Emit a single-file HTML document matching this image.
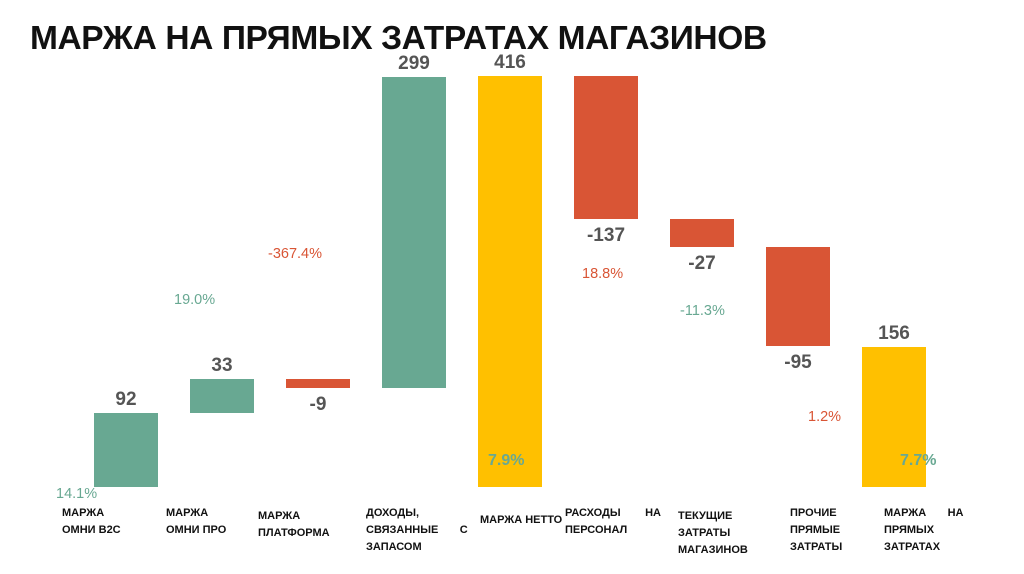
<!DOCTYPE html>
<html><head><meta charset="utf-8"><style>
body{margin:0;width:1024px;height:574px;background:#fff;position:relative;overflow:hidden;font-family:"Liberation Sans","DejaVu Sans",sans-serif}
#title{position:absolute;left:30px;top:20px;font-size:33.5px;font-weight:bold;color:#111;letter-spacing:-0.4px}
.bar{position:absolute}
.val{position:absolute;width:100px;text-align:center;font-size:19px;font-weight:bold;color:#555}
.pct{position:absolute;font-size:14.5px}
.cat{position:absolute;font-size:11px;font-weight:bold;color:#111;line-height:17px;white-space:nowrap}
</style></head><body>
<div id="title">МАРЖА НА ПРЯМЫХ ЗАТРАТАХ МАГАЗИНОВ</div>
<div id="chart"></div>
<script>
const categories=["МАРЖА<br>ОМНИ B2C","МАРЖА<br>ОМНИ ПРО","МАРЖА<br>ПЛАТФОРМА","ДОХОДЫ,<br>СВЯЗАННЫЕ &nbsp;&nbsp;&nbsp;&nbsp;&nbsp;&nbsp;С<br>ЗАПАСОМ","МАРЖА НЕТТО","РАСХОДЫ &nbsp;&nbsp;&nbsp;&nbsp;&nbsp;&nbsp;&nbsp;НА<br>ПЕРСОНАЛ","ТЕКУЩИЕ<br>ЗАТРАТЫ<br>МАГАЗИНОВ","ПРОЧИЕ<br>ПРЯМЫЕ<br>ЗАТРАТЫ","МАРЖА &nbsp;&nbsp;&nbsp;&nbsp;&nbsp;&nbsp;НА<br>ПРЯМЫХ<br>ЗАТРАТАХ"];
const values=[92,33,-9,299,416,-137,-27,-95,156];
const isTotal=[false,false,false,false,true,false,false,false,true];
const percents=["14.1%","19.0%","-367.4%","","7.9%","18.8%","-11.3%","1.2%","7.7%"];
const pctPos=[[56,486],[174,292],[268,246],[0,0],[488,452],[582,266],[680,303],[808,409],[900,452]];
const catTop=[505,505,508,505,512,505,508,505,505];
const catLeft=[62,166,258,366,480,565,678,790,884];
const X0=94,STEP=96,W=64,BASE=509,K=1.04,FLOOR=487;
const y=v=>BASE-v*K;
const C=document.getElementById('chart');
let cum=0;
values.forEach((v,i)=>{
  let a,b,col;
  if(isTotal[i]){a=0;b=v;cum=v;col='#ffc000';}
  else{a=cum;b=cum+v;cum=b;col=v>=0?'#68a892':'#d95535';}
  const lo=Math.min(a,b),hi=Math.max(a,b);
  const x=X0+i*STEP;
  const top=y(hi),bot=Math.min(y(lo),FLOOR);
  const r=document.createElement('div');r.className='bar';
  
  
  r.style.cssText=`left:${x}px;top:${top}px;width:${W}px;height:${bot-top}px;background:${col}`;
  C.appendChild(r);
  const l=document.createElement('div');l.className='val';
  
  
  l.textContent=v;
  l.style.left=(x+W/2-50)+'px';
  l.style.top=(v>=0?top-24:bot+6)+'px';
  C.appendChild(l);
  if(percents[i]){
    const p=document.createElement('div');p.className='pct';
    
    
    p.textContent=percents[i];
    const big=isTotal[i];
    const red=(i===2||i===5||i===7);
    p.style.cssText=`left:${pctPos[i][0]}px;top:${pctPos[i][1]}px;color:${red?'#d95535':'#68a892'};${big?'font-size:16px;font-weight:bold;':''}`;
    C.appendChild(p);
  }
  const c=document.createElement('div');c.className='cat';
  
  
  c.innerHTML=categories[i];
  c.style.left=catLeft[i]+'px';
  c.style.top=catTop[i]+'px';
  C.appendChild(c);
});
</script>
</body></html>
